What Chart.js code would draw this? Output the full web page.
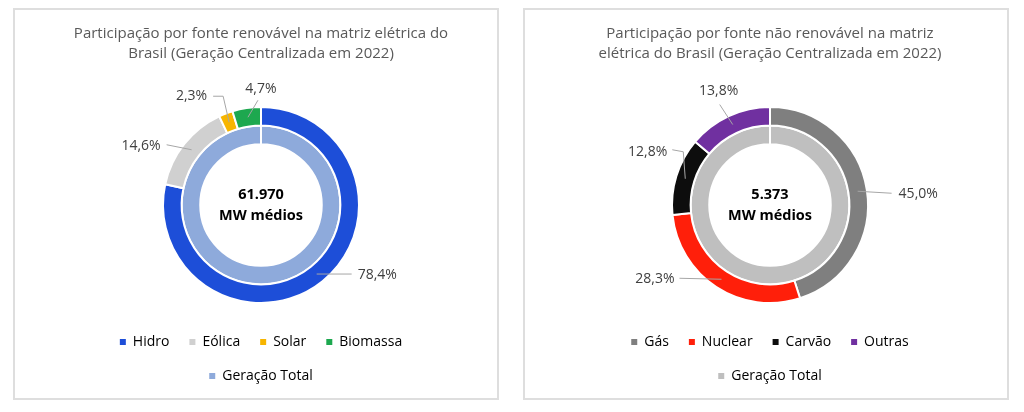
<!DOCTYPE html>
<html>
<head>
<meta charset="utf-8">
<script src="https://cdn.jsdelivr.net/npm/chart.js@4.4.1/dist/chart.umd.min.js"></script>
<style>
  body { margin: 0; background: #fff; width: 1024px; height: 412px; position: relative; overflow: hidden; }
  .panel { position: absolute; top: 8px; width: 486px; height: 392px; border: 2px solid #dedede; box-sizing: border-box; }
  .wrap { position: absolute; top: 0; width: 420px; height: 412px; }
</style>
</head>
<body>
<div class="panel" style="left:13px"></div>
<div class="panel" style="left:523px"></div>
<div class="wrap" style="left:51px"><canvas id="renovavel"></canvas></div>
<div class="wrap" style="left:560px"><canvas id="naoRenovavel"></canvas></div>
<script>
const renovLabels = ['Hidro', 'Eólica', 'Solar', 'Biomassa'];
const renovValues = [78.4, 14.6, 2.3, 4.7];
const renovColors = ['#1d4ed8', '#d0d0d0', '#f7b500', '#1da84f'];
const renovTotal = '61.970';

const naoRenovLabels = ['Gás', 'Nuclear', 'Carvão', 'Outras'];
const naoRenovValues = [45.0, 28.3, 12.8, 13.8];
const naoRenovColors = ['#7f7f7f', '#ff1f0a', '#0d0d0d', '#7030a0'];
const naoRenovTotal = '5.373';

const totalLabel = 'Geração Total';
const totalValue = [100];

const FONT = '"Open Sans", Lato, sans-serif';

// leader line offsets from the arc's mid point, and where the text goes
const renovLabelLayout = [
    { path: [[35, 0]], text: [6, 1], align: 'left' },
    { path: [[-25, -5]], text: [-6, 1], align: 'right' },
    { path: [[-6, -26], [-16, -26]], text: [-6, 0], align: 'right' },
    { path: [[10, -17]], text: [3, -11], align: 'center' }
];
const naoRenovLabelLayout = [
    { path: [[34, 2]], text: [7, 1], align: 'left' },
    { path: [[-42, -1]], text: [-5, 1], align: 'right' },
    { path: [[-2, -27], [-13, -29]], text: [-5, 2], align: 'right' },
    { path: [[-13, -20]], text: [-1, -14], align: 'center' }
];

const sliceLabels = {
    id: 'sliceLabels',
    afterDatasetsDraw(chart, args, opts) {
        const ctx = chart.ctx;
        const arcs = chart.getDatasetMeta(0).data;
        const values = chart.data.datasets[0].data;
        ctx.save();
        ctx.font = '14px ' + FONT;
        ctx.textBaseline = 'middle';
        arcs.forEach((arc, i) => {
            const lay = opts.layout[i];
            const p = arc.getCenterPoint();
            ctx.strokeStyle = '#a6a6a6';
            ctx.lineWidth = 1;
            ctx.beginPath();
            ctx.moveTo(p.x, p.y);
            let end = p;
            lay.path.forEach(d => {
                end = { x: p.x + d[0], y: p.y + d[1] };
                ctx.lineTo(end.x, end.y);
            });
            ctx.stroke();
            ctx.fillStyle = '#404040';
            ctx.textAlign = lay.align;
            const txt = values[i].toFixed(1).replace('.', ',') + '%';
            ctx.fillText(txt, end.x + lay.text[0], end.y + lay.text[1]);
        });
        ctx.restore();
    }
};

const centerText = {
    id: 'centerText',
    afterDatasetsDraw(chart, args, opts) {
        const ctx = chart.ctx;
        const a = chart.chartArea;
        const cx = (a.left + a.right) / 2;
        const cy = (a.top + a.bottom) / 2;
        ctx.save();
        ctx.font = 'bold 14.5px ' + FONT;
        ctx.fillStyle = '#000';
        ctx.textAlign = 'center';
        ctx.textBaseline = 'middle';
        ctx.fillText(opts.lines[0], cx, cy - 10);
        ctx.fillText(opts.lines[1], cx, cy + 11);
        ctx.restore();
    }
};

function makeChart(id, title, labels, values, colors, totalColor, total, layout) {
    return new Chart(document.getElementById(id), {
        type: 'doughnut',
        data: {
            labels: labels,
            datasets: [{
                data: values,
                backgroundColor: colors,
                borderColor: '#fff',
                borderWidth: 2
            }, {
                data: totalValue,
                backgroundColor: [totalColor],
                borderColor: '#fff',
                borderWidth: 2
            }]
        },
        options: {
            responsive: true,
            maintainAspectRatio: false,
            animation: false,
            radius: 98,
            cutout: '62%',
            layout: { padding: { bottom: 19 } },
            plugins: {
                tooltip: { enabled: false },
                title: {
                    display: true,
                    text: title,
                    color: '#595959',
                    font: { family: FONT, size: 15, weight: 'normal', lineHeight: 20 / 15 },
                    padding: { top: 24, bottom: 31 }
                },
                legend: {
                    position: 'bottom',
                    labels: {
                        color: '#595959',
                        font: { family: FONT, size: 14 },
                        boxWidth: 6,
                        boxHeight: 6,
                        padding: 20,
                        generateLabels: () => labels.map((l, i) => ({
                            text: l, fillStyle: colors[i], strokeStyle: colors[i], lineWidth: 0, hidden: false, index: i
                        })).concat([{
                            text: totalLabel, fillStyle: totalColor, strokeStyle: totalColor, lineWidth: 0, hidden: false, index: labels.length
                        }])
                    }
                },
                sliceLabels: { layout: layout },
                centerText: { lines: [total, 'MW médios'] }
            }
        },
        plugins: [sliceLabels, centerText]
    });
}

makeChart('renovavel',
    ['Participação por fonte renovável na matriz elétrica do', 'Brasil (Geração Centralizada em 2022)'],
    renovLabels, renovValues, renovColors, '#8eaadb', renovTotal, renovLabelLayout);

makeChart('naoRenovavel',
    ['Participação por fonte não renovável na matriz', 'elétrica do Brasil (Geração Centralizada em 2022)'],
    naoRenovLabels, naoRenovValues, naoRenovColors, '#bfbfbf', naoRenovTotal, naoRenovLabelLayout);
</script>
</body>
</html>
